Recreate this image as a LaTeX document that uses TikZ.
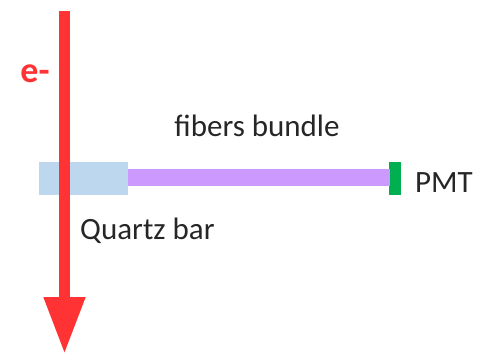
\documentclass[tikz,border=0pt]{standalone}
\usepackage{fontspec}
\setmainfont{Carlito}
\usepackage{xcolor}
\usetikzlibrary{positioning,arrows.meta}
\definecolor{quartzblue}{HTML}{BDD7EE}
\definecolor{fiberviolet}{HTML}{CC99FF}
\definecolor{pmtgreen}{HTML}{00B050}
\definecolor{beamred}{HTML}{FF3333}
\tikzset{
	every picture/.style={
		>=latex,
		node distance=5mm and 5mm
}}

\begin{document}
\begin{tikzpicture}[x=1pt,y=-1pt]
\tikzstyle{label}=[font=\fontsize{31}{35}\selectfont, text=black!85, inner sep=0pt]
\tikzstyle{part}=[rectangle, inner sep=0pt, draw=none]
\tikzstyle{beam}=[draw=beamred, line width=11pt, -{Triangle[length=57pt,width=39pt]}]
\useasboundingbox (0,0) rectangle (480,354);
% detector parts
\node[part, fill=quartzblue, minimum width=89pt, minimum height=33pt] (quartz) at (83.5,178.5) {};
\node[part, fill=pmtgreen, minimum width=12pt, minimum height=33pt] (pmt) at (395,178.5) {};
\node[part, fill=fiberviolet, anchor=west, minimum width=262pt, minimum height=17pt] (fibers) at (quartz.east |- 0,177.5) {};
% labels
\node[label] (fiberslabel) at (257,126) {fibers bundle};
\node[label, anchor=west] (pmtlabel) at (415,183) {PMT};
\node[label, anchor=west] (quartzlabel) at (80,231) {Quartz bar};
% electron track
\coordinate (top) at (64.5,11);
\coordinate (bottom) at (64.5,354);
\draw[beam] (top) -- (bottom);
\node[label, text=beamred, font=\bfseries\fontsize{36}{40}\selectfont] (elabel) at (35,74) {e-};
\end{tikzpicture}
\end{document}
